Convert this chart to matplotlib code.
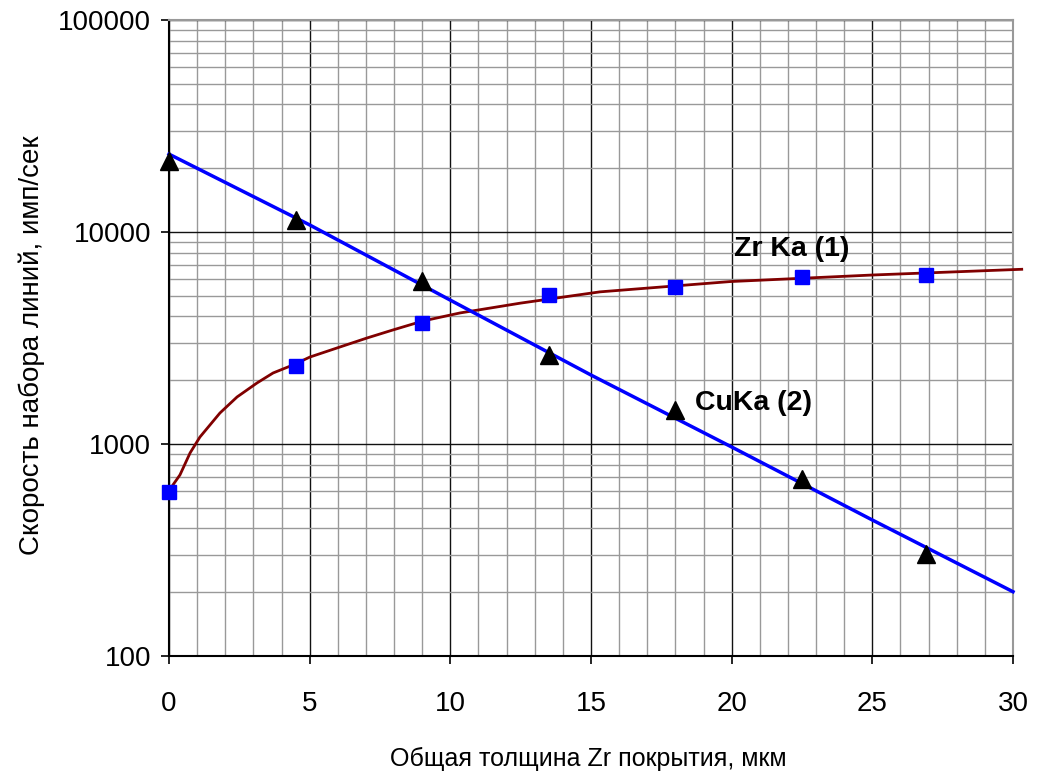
import matplotlib
matplotlib.use("Agg")
import matplotlib.pyplot as plt
from matplotlib.ticker import MultipleLocator, LogLocator, NullFormatter

plt.rcParams['font.family'] = ['Liberation Sans', 'DejaVu Sans']

# Measured points
zr_x = [0, 4.5, 9, 13.5, 18, 22.5, 26.9]
zr_y = [594, 2335, 3725, 5050, 5510, 6140, 6270]
cu_x = [0, 4.5, 9, 13.5, 18, 22.5, 26.9]
cu_y = [21600, 11400, 5870, 2630, 1445, 684, 303]

# Fitted curves
zr_fit_x = [0.1, 0.39, 0.75, 1.10, 1.81, 2.42, 3.13, 3.70, 4.41, 5.01, 6.08, 7.04,
            7.96, 9.03, 10.34, 12.5, 15.32, 19.94, 25.03, 30.31]
zr_fit_y = [630, 715, 908, 1079, 1400, 1667, 1941, 2163, 2360, 2572, 2869, 3163,
            3451, 3805, 4150, 4620, 5220, 5836, 6270, 6670]
cu_fit_x = [0, 5, 10, 15, 20, 25, 30]
cu_fit_y = [23300, 10800, 4770, 2115, 968, 438, 201]

xticks = [0, 5, 10, 15, 20, 25, 30]
yticks = [100, 1000, 10000, 100000]

fig = plt.figure(figsize=(10.43, 7.76), dpi=100)
ax = fig.add_axes([169/1043, 1-656/776, (1013-169)/1043, (656-20)/776])
ax.set_yscale('log')
ax.set_xlim(0, 30)
ax.set_ylim(100, 100000)

ax.set_xticks(xticks)
ax.set_xticklabels([str(t) for t in xticks])
ax.xaxis.set_minor_locator(MultipleLocator(1))
ax.set_yticks(yticks)
ax.set_yticklabels([str(t) for t in yticks])
ax.yaxis.set_minor_locator(LogLocator(base=10, subs=range(2, 10)))
ax.yaxis.set_minor_formatter(NullFormatter())

ax.grid(True, which='major', color='#111111', linewidth=1.0, zorder=0)
ax.grid(True, which='minor', color='#999999', linewidth=1.0, zorder=0)
ax.set_axisbelow(True)

ax.tick_params(which='major', direction='out', length=6, width=1.2, labelsize=20, colors='black')
ax.tick_params(axis='x', which='major', pad=19)
ax.tick_params(axis='y', which='major', pad=7)
ax.tick_params(which='minor', length=0)

for s in ['top', 'right']:
    ax.spines[s].set_color('#999999')
    ax.spines[s].set_linewidth(1.5)
for s in ['left', 'bottom']:
    ax.spines[s].set_color('black')
    ax.spines[s].set_linewidth(1.5)

ax.plot(zr_fit_x, zr_fit_y, color='#800000', linewidth=2, clip_on=False, zorder=3)
ax.plot(cu_fit_x, cu_fit_y, color='#0000ff', linewidth=2.5, clip_on=False, zorder=3)
ax.plot(zr_x, zr_y, linestyle='none', marker='s', markersize=10, color='#0000ff', clip_on=False, zorder=4)
ax.plot(cu_x, cu_y, linestyle='none', marker='^', markersize=13, color='black', clip_on=False, zorder=4)

ax.text(22.15, 8350, 'Zr Ka (1)', fontsize=20.5, fontweight='bold', ha='center', va='center')
ax.text(18.7, 1560, 'CuKa (2)', fontsize=20.5, fontweight='bold', ha='left', va='center')

fig.text(588/1043, 1-759/776, 'Общая толщина Zr покрытия, мкм', fontsize=18, ha='center', va='center')
fig.text(32/1043, 1-345/776, 'Скорость набора линий, имп/сек', fontsize=20, ha='center', va='center', rotation=90)

fig.savefig('out.png', dpi=100)
